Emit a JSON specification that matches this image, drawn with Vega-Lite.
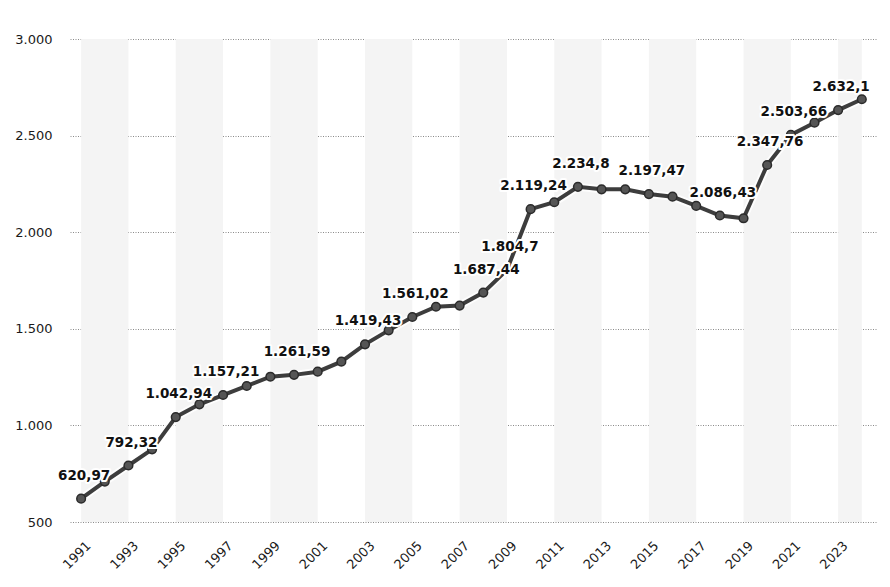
{
  "$schema": "https://vega.github.io/schema/vega-lite/v6.json",
  "width": 806,
  "height": 483,
  "autosize": {"type": "none"},
  "padding": {"left": 70, "top": 39, "right": 14, "bottom": 65},
  "background": "white",
  "config": {
    "view": {"stroke": null},
    "font": "DejaVu Sans",
    "locale": {"number": {"decimal": ",", "thousands": ".", "grouping": [3], "currency": ["", ""]}}
  },
  "datasets": {
    "bands": [
      {"start": 1991, "end": 1993},
      {"start": 1995, "end": 1997},
      {"start": 1999, "end": 2001},
      {"start": 2003, "end": 2005},
      {"start": 2007, "end": 2009},
      {"start": 2011, "end": 2013},
      {"start": 2015, "end": 2017},
      {"start": 2019, "end": 2021},
      {"start": 2023, "end": 2024}
    ],
    "main": [
      {"year": 1991, "value": 620.97, "label": 620.97},
      {"year": 1992, "value": 709, "label": null},
      {"year": 1993, "value": 792.32, "label": 792.32},
      {"year": 1994, "value": 876, "label": null},
      {"year": 1995, "value": 1042.94, "label": 1042.94},
      {"year": 1996, "value": 1109, "label": null},
      {"year": 1997, "value": 1157.21, "label": 1157.21},
      {"year": 1998, "value": 1204, "label": null},
      {"year": 1999, "value": 1252, "label": null},
      {"year": 2000, "value": 1261.59, "label": 1261.59},
      {"year": 2001, "value": 1278, "label": null},
      {"year": 2002, "value": 1330, "label": null},
      {"year": 2003, "value": 1419.43, "label": 1419.43},
      {"year": 2004, "value": 1492, "label": null},
      {"year": 2005, "value": 1561.02, "label": 1561.02},
      {"year": 2006, "value": 1614, "label": null},
      {"year": 2007, "value": 1620, "label": null},
      {"year": 2008, "value": 1687.44, "label": 1687.44},
      {"year": 2009, "value": 1804.7, "label": 1804.7},
      {"year": 2010, "value": 2119.24, "label": 2119.24},
      {"year": 2011, "value": 2155, "label": null},
      {"year": 2012, "value": 2234.8, "label": 2234.8},
      {"year": 2013, "value": 2222, "label": null},
      {"year": 2014, "value": 2222, "label": null},
      {"year": 2015, "value": 2197.47, "label": 2197.47},
      {"year": 2016, "value": 2184, "label": null},
      {"year": 2017, "value": 2136, "label": null},
      {"year": 2018, "value": 2086.43, "label": 2086.43},
      {"year": 2019, "value": 2072, "label": null},
      {"year": 2020, "value": 2347.76, "label": 2347.76},
      {"year": 2021, "value": 2503.66, "label": 2503.66},
      {"year": 2022, "value": 2567, "label": null},
      {"year": 2023, "value": 2632.1, "label": 2632.1},
      {"year": 2024, "value": 2688, "label": null}
    ]
  },
  "layer": [
    {
      "data": {"name": "bands"},
      "mark": {"type": "rect", "color": "#f4f4f4"},
      "encoding": {
        "x": {
          "field": "start", "type": "quantitative",
          "scale": {"domain": [1990.53, 2024.6], "nice": false, "zero": false},
          "axis": {
            "title": null, "values": [1991,1993,1995,1997,1999,2001,2003,2005,2007,2009,2011,2013,2015,2017,2019,2021,2023],
            "format": "d", "labelAngle": -45, "grid": false, "domain": false, "ticks": false,
            "labelPadding": 17, "labelFontSize": 13, "labelColor": "#1a1a1a", "labelFont": "DejaVu Sans", "labelOffset": 3
          }
        },
        "x2": {"field": "end"}
      }
    },
    {
      "data": {"name": "main"},
      "encoding": {
        "x": {"field": "year", "type": "quantitative", "scale": {"domain": [1990.53, 2024.6], "nice": false, "zero": false}},
        "y": {
          "field": "value", "type": "quantitative",
          "scale": {"domain": [500, 3000], "nice": false, "zero": false},
          "axis": {
            "title": null, "values": [500, 1000, 1500, 2000, 2500, 3000], "format": ",.0f",
            "domain": false, "ticks": false, "labelPadding": 18, "labelFontSize": 13, "labelColor": "#1a1a1a",
            "labelFont": "DejaVu Sans",
            "grid": true, "gridColor": "#8a8a8a", "gridDash": [1, 1.5], "gridWidth": 1
          }
        }
      },
      "layer": [
        {"mark": {"type": "line", "color": "white", "strokeWidth": 8, "opacity": 0.8}},
        {"mark": {"type": "line", "color": "#3d3d3d", "strokeWidth": 4}},
        {"mark": {"type": "point", "shape": "circle", "filled": true, "size": 75, "fill": "#555555", "stroke": "#2b2b2b", "strokeWidth": 1.5, "opacity": 1}},
        {
          "transform": [{"filter": "datum.label != null"}],
          "mark": {"type": "text", "fontSize": 13.5, "fontWeight": "bold", "font": "DejaVu Sans", "baseline": "middle", "dy": -23, "dx": 3, "stroke": "white", "strokeWidth": 4, "strokeJoin": "round", "fill": "white"},
          "encoding": {"text": {"field": "label", "type": "quantitative", "format": ",.2~f"}}
        },
        {
          "transform": [{"filter": "datum.label != null"}],
          "mark": {"type": "text", "fontSize": 13.5, "fontWeight": "bold", "font": "DejaVu Sans", "baseline": "middle", "dy": -23, "dx": 3, "fill": "#111111"},
          "encoding": {"text": {"field": "label", "type": "quantitative", "format": ",.2~f"}}
        }
      ]
    }
  ]
}
